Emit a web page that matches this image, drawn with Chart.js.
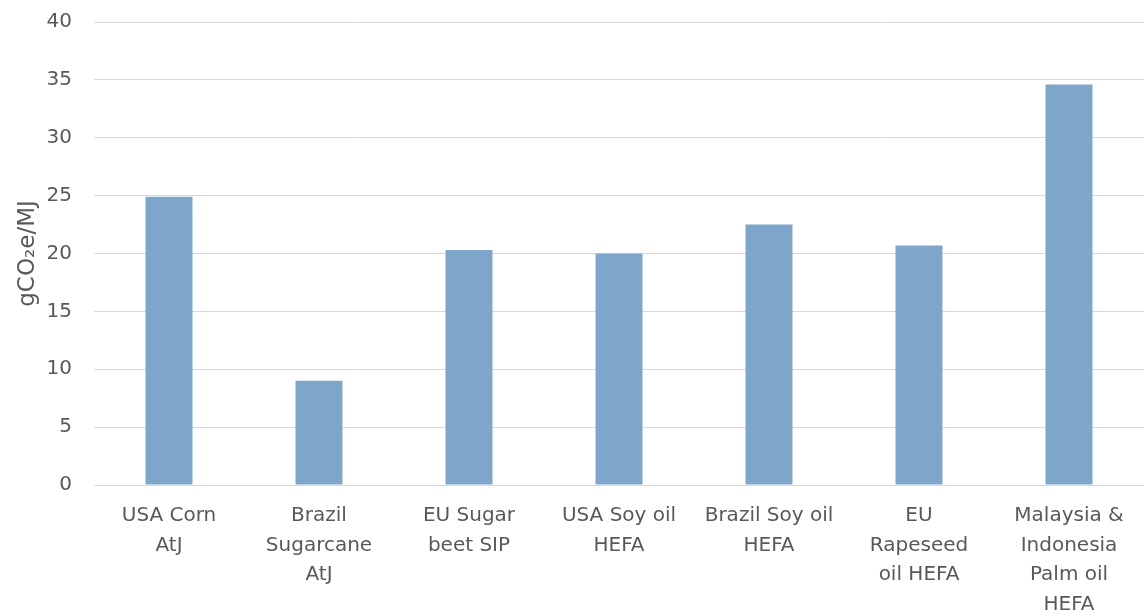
<!DOCTYPE html>
<html>
<head>
<meta charset="utf-8">
<script src="https://cdn.jsdelivr.net/npm/chart.js@4"></script>
<style>
  html, body { margin: 0; padding: 0; background: #fff; }
  #wrap { width: 1144px; height: 614px; }
</style>
</head>
<body>
<div id="wrap"><canvas id="chart"></canvas></div>
<script>
// categories (wrapped as in the original)
const categories = [
  ['USA Corn', 'AtJ'],
  ['Brazil', 'Sugarcane', 'AtJ'],
  ['EU Sugar', 'beet SIP'],
  ['USA Soy oil', 'HEFA'],
  ['Brazil Soy oil', 'HEFA'],
  ['EU', 'Rapeseed', 'oil HEFA'],
  ['Malaysia &', 'Indonesia', 'Palm oil', 'HEFA']
];
const emissions = [24.9, 9.0, 20.3, 20.0, 22.5, 20.7, 34.6];
const yTicks = [0, 5, 10, 15, 20, 25, 30, 35, 40];

const fontFamily = "'DejaVu Sans', sans-serif";
const textColor = '#595959';

const ctx = document.getElementById('chart').getContext('2d');
new Chart(ctx, {
  type: 'bar',
  data: {
    labels: categories,
    datasets: [{
      data: emissions,
      backgroundColor: '#7ea6ca',
      borderWidth: 0,
      barPercentage: 0.313,
      categoryPercentage: 1
    }]
  },
  options: {
    responsive: true,
    maintainAspectRatio: false,
    animation: false,
    layout: { padding: 0 },
    plugins: {
      legend: { display: false },
      tooltip: { enabled: false }
    },
    scales: {
      x: {
        grid: { display: false, drawTicks: false },
        border: { color: '#d9d9d9', width: 1 },
        ticks: {
          color: textColor,
          font: { family: fontFamily, size: 20, lineHeight: 1.48 },
          padding: 16,
          maxRotation: 0,
          autoSkip: false
        },
        afterFit: s => { s.height = 129; }
      },
      y: {
        min: yTicks[0],
        max: yTicks[yTicks.length - 1],
        afterBuildTicks: s => { s.ticks = yTicks.map(v => ({ value: v })); },
        grid: {
          color: '#d9d9d9',
          lineWidth: 1,
          drawTicks: true,
          tickColor: 'rgba(0,0,0,0)',
          tickLength: 12
        },
        border: { display: false },
        ticks: {
          color: textColor,
          font: { family: fontFamily, size: 20 },
          padding: 10
        },
        title: {
          display: true,
          text: 'gCO₂e/MJ',
          color: textColor,
          font: { family: fontFamily, size: 23 },
          padding: { top: 14, bottom: 4 }
        },
        afterFit: s => { s.width = 94; }
      }
    }
  }
});
</script>
</body>
</html>
